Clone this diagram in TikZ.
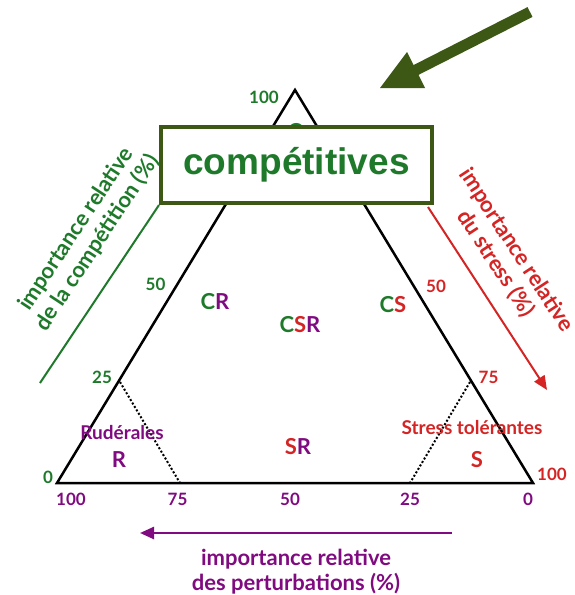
\documentclass[tikz,border=0pt]{standalone}
\usepackage{fontspec}
\setmainfont{Lato}
\newfontfamily\arialfont{Liberation Sans}
\usetikzlibrary{arrows.meta}
\definecolor{cgreen}{RGB}{30,122,42}
\definecolor{cred}{RGB}{212,36,36}
\definecolor{cpurple}{RGB}{128,10,128}
\definecolor{colive}{RGB}{60,88,20}
\begin{document}
\begin{tikzpicture}[x=1pt,y=-1pt,
  num/.style={font=\fontsize{17}{19}\selectfont\bfseries, inner sep=0pt},
  axl/.style={font=\fontsize{22}{25}\selectfont\bfseries, align=center, inner sep=0pt},
  big/.style={font=\fontsize{22}{24}\selectfont\bfseries, inner sep=0pt},
  small/.style={font=\fontsize{19}{21}\selectfont\bfseries, inner sep=0pt},
  side/.style={line width=2.5pt, line join=miter},
  dotline/.style={line width=2pt, dash pattern=on 2pt off 2pt},
]
\useasboundingbox (0,0) rectangle (574,595);
% triangle
\coordinate (A) at (295,90);
\coordinate (BL) at (57,483);
\coordinate (BR) at (533,483);
\draw[side] (A) -- (BL) -- (BR) -- cycle;
% dotted lines
\coordinate (d1a) at (120,382); \coordinate (d1b) at (180,483);
\coordinate (d2a) at (470,382); \coordinate (d2b) at (410,483);
\draw[dotline] (d1a) -- (d1b);
\draw[dotline] (d2a) -- (d2b);
% hidden C
\node[big, text=cgreen] (hc) at (295,132) {C};
% box
\node[draw=colive, line width=4pt, fill=white, minimum width=271, minimum height=76, inner sep=0pt,
  font=\arialfont\fontsize{37}{40}\selectfont\bfseries, text=cgreen] (box) at (296.5,165) {compétitives};
% big arrow
\coordinate (ba1) at (530,12);
\coordinate (ba2) at (414,71);
\coordinate (h1) at (380,88);
\coordinate (h2) at (407,52);
\coordinate (h3) at (425,88);
\draw[colive, line width=11pt] (ba1) -- (ba2);
\fill[colive] (h1) -- (h2) -- (h3) -- cycle;
% left green line and label
\coordinate (gl) at (40,383);
\draw[cgreen, line width=2pt] (gl) -- (box.south west);
\node[axl, text=cgreen, rotate=56.6] (lcomp) at (87,236) {importance relative\\de la compétition (\%)};
% right red arrow and label
\coordinate (ra1) at (428,207);
\coordinate (ra2) at (547,390);
\draw[cred, line width=2pt, -{Triangle[length=14pt,width=12pt]}] (ra1) -- (ra2);
\node[axl, text=cred, rotate=-56.7] (lstress) at (506,257) {importance relative\\du stress (\%)};
% bottom purple arrow and label
\coordinate (pa1) at (452,533);
\coordinate (pa2) at (140,533);
\draw[cpurple, line width=2.5pt, -{Triangle[length=14pt,width=12pt]}] (pa1) -- (pa2);
\node[axl, text=cpurple] (lpert) at (296,572) {importance relative\\des perturbations (\%)};
% numbers left (green)
\node[num, text=cgreen] (n100) at (264,97) {100};
\node[num, text=cgreen] (n50l) at (155.5,284) {50};
\node[num, text=cgreen] (n25l) at (102,377) {25};
\node[num, text=cgreen] (n0l) at (48,477) {0};
% numbers right (red)
\node[num, text=cred] (n50r) at (436,286) {50};
\node[num, text=cred] (n75r) at (488.5,377) {75};
\node[num, text=cred] (n100r) at (552,474) {100};
% numbers bottom (purple)
\node[num, text=cpurple] (b100) at (71,499) {100};
\node[num, text=cpurple] (b75) at (177.5,499) {75};
\node[num, text=cpurple] (b50) at (290,499) {50};
\node[num, text=cpurple] (b25) at (410,499) {25};
\node[num, text=cpurple] (b0) at (528,499) {0};
% region labels
\node[big] (cr) at (215,302) {\color{cgreen}C\color{cpurple}R};
\node[big] (csr) at (300,325) {\color{cgreen}C\color{cred}S\color{cpurple}R};
\node[big] (cs) at (393,305) {\color{cgreen}C\color{cred}S};
\node[small, text=cpurple] (rud) at (122,433) {Rudérales};
\node[big, text=cpurple] (r) at (119,460) {R};
\node[big] (sr) at (298,447) {\color{cred}S\color{cpurple}R};
\node[small, text=cred] (stol) at (472,428) {Stress tolérantes};
\node[big, text=cred] (s) at (477,460) {S};
\end{tikzpicture}
\end{document}
